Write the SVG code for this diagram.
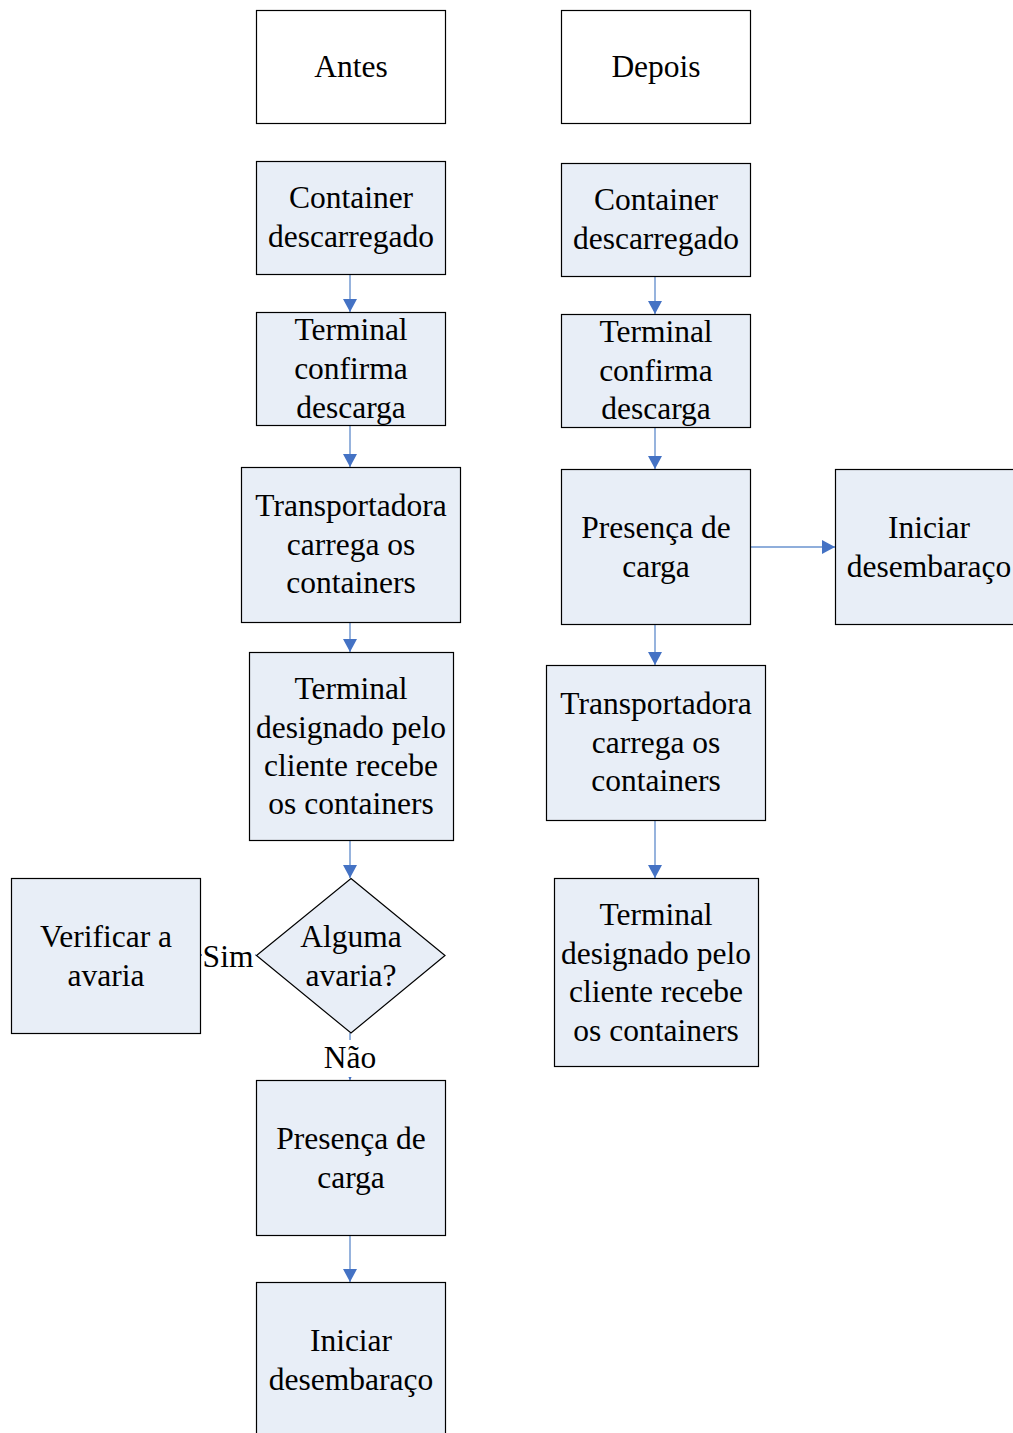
<svg xmlns="http://www.w3.org/2000/svg" width="1013" height="1433" viewBox="0 0 1013 1433">
<style>
.box{fill:#E8EEF7;stroke:#000;stroke-width:1.2}
.plain{fill:#fff;stroke:#000;stroke-width:1.2}
text{font-family:"Liberation Serif","Times New Roman",serif;font-size:31.5px;fill:#000;text-anchor:middle}
.c{stroke:#6A93CF;stroke-width:1.4;fill:none}
.lbl{fill:#fff;stroke:none}
</style>
<defs>
<marker id="ah" viewBox="0 0 13 14" refX="13" refY="7" markerWidth="13" markerHeight="14" markerUnits="userSpaceOnUse" orient="auto">
<path d="M0,0 L13,7 L0,14 Z" fill="#4472C4"/>
</marker>
</defs>
<g id="connectors">
<line class="c" x1="350" y1="274" x2="350" y2="312" marker-end="url(#ah)"/>
<line class="c" x1="350" y1="425" x2="350" y2="467" marker-end="url(#ah)"/>
<line class="c" x1="350" y1="622" x2="350" y2="652" marker-end="url(#ah)"/>
<line class="c" x1="350" y1="840" x2="350" y2="878" marker-end="url(#ah)"/>
<line class="c" x1="256" y1="955" x2="200" y2="955" marker-end="url(#ah)"/>
<line class="c" x1="350" y1="1033" x2="350" y2="1080" marker-end="url(#ah)"/>
<line class="c" x1="350" y1="1235" x2="350" y2="1282" marker-end="url(#ah)"/>
<line class="c" x1="655" y1="276" x2="655" y2="314" marker-end="url(#ah)"/>
<line class="c" x1="655" y1="427" x2="655" y2="469" marker-end="url(#ah)"/>
<line class="c" x1="655" y1="624" x2="655" y2="665" marker-end="url(#ah)"/>
<line class="c" x1="655" y1="820" x2="655" y2="878" marker-end="url(#ah)"/>
<line class="c" x1="750" y1="547" x2="835" y2="547" marker-end="url(#ah)"/>
<rect class="lbl" x="202" y="938" width="53" height="36"/>
<text x="228" y="967">Sim</text>
<rect class="lbl" x="322" y="1040" width="58" height="37"/>
<text x="350" y="1068">Não</text>
</g>
<g id="antes"><rect class="plain" x="256.5" y="10.5" width="189" height="113"/><text x="351" y="77">Antes</text></g>
<g id="depois"><rect class="plain" x="561.5" y="10.5" width="189" height="113"/><text x="656" y="77">Depois</text></g>
<g id="l1"><rect class="box" x="256.5" y="161.5" width="189" height="113"/><text x="351" y="208">Container</text><text x="351" y="247">descarregado</text></g>
<g id="l2"><rect class="box" x="256.5" y="312.5" width="189" height="113"/><text x="351" y="340">Terminal</text><text x="351" y="379">confirma</text><text x="351" y="418">descarga</text></g>
<g id="l3"><rect class="box" x="241.5" y="467.5" width="219" height="155"/><text x="351" y="516">Transportadora</text><text x="351" y="555">carrega os</text><text x="351" y="593">containers</text></g>
<g id="l4"><rect class="box" x="249.5" y="652.5" width="204" height="188"/><text x="351" y="699">Terminal</text><text x="351" y="738">designado pelo</text><text x="351" y="776">cliente recebe</text><text x="351" y="814">os containers</text></g>
<g id="l5"><polygon class="box" points="351,878.5 445,955.5 351,1033 256.5,955.5"/><text x="351" y="947">Alguma</text><text x="351" y="986">avaria?</text></g>
<g id="l6"><rect class="box" x="11.5" y="878.5" width="189" height="155"/><text x="106" y="947">Verificar a</text><text x="106" y="986">avaria</text></g>
<g id="l7"><rect class="box" x="256.5" y="1080.5" width="189" height="155"/><text x="351" y="1149">Presença de</text><text x="351" y="1188">carga</text></g>
<g id="l8"><rect class="box" x="256.5" y="1282.5" width="189" height="160"/><text x="351" y="1351">Iniciar</text><text x="351" y="1390">desembaraço</text></g>
<g id="r1"><rect class="box" x="561.5" y="163.5" width="189" height="113"/><text x="656" y="210">Container</text><text x="656" y="249">descarregado</text></g>
<g id="r2"><rect class="box" x="561.5" y="314.5" width="189" height="113"/><text x="656" y="342">Terminal</text><text x="656" y="381">confirma</text><text x="656" y="419">descarga</text></g>
<g id="r3"><rect class="box" x="561.5" y="469.5" width="189" height="155"/><text x="656" y="538">Presença de</text><text x="656" y="577">carga</text></g>
<g id="r4"><rect class="box" x="835.5" y="469.5" width="189" height="155"/><text x="929" y="538">Iniciar</text><text x="929" y="577">desembaraço</text></g>
<g id="r5"><rect class="box" x="546.5" y="665.5" width="219" height="155"/><text x="656" y="714">Transportadora</text><text x="656" y="753">carrega os</text><text x="656" y="791">containers</text></g>
<g id="r6"><rect class="box" x="554.5" y="878.5" width="204" height="188"/><text x="656" y="925">Terminal</text><text x="656" y="964">designado pelo</text><text x="656" y="1002">cliente recebe</text><text x="656" y="1041">os containers</text></g>
</svg>
